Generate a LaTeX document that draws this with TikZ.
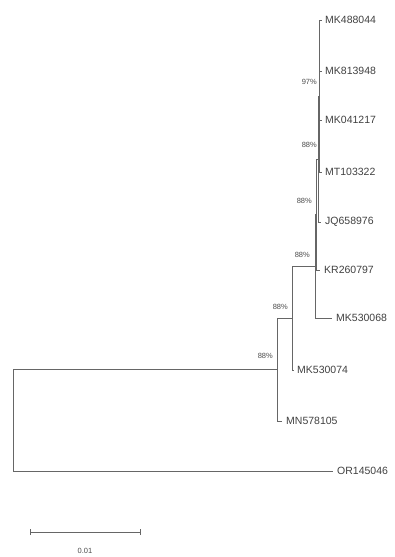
\documentclass[tikz,border=0pt]{standalone}
\usepackage{fontspec}
\setmainfont{Liberation Sans}
\begin{document}
\begin{tikzpicture}[x=1pt,y=-1pt,
  branch/.style={draw=black!60, line width=0.8pt},
  leaflab/.style={anchor=west, font=\fontsize{10.5}{12}\selectfont, text=black!75, inner sep=0pt},
  support/.style={anchor=east, font=\fontsize{7.5}{9}\selectfont, text=black!70, inner sep=0pt}]
\useasboundingbox (0,0) rectangle (394,557);
% internal nodes
\coordinate (root) at (13,420);
\coordinate (n1) at (277,369.5);
\coordinate (n2) at (292,318);
\coordinate (n3) at (315,266.5);
\coordinate (n4) at (316.5,214.5);
\coordinate (n5) at (318,159);
\coordinate (n6) at (319.5,96);
% leaf tips
\coordinate (l1) at (321.5,20);
\coordinate (l2) at (321.5,71);
\coordinate (l3) at (321.5,120);
\coordinate (l4) at (321.5,172);
\coordinate (l5) at (320.5,222);
\coordinate (l6) at (319.5,270);
\coordinate (l7) at (332,318);
\coordinate (l8) at (294,370);
\coordinate (l9) at (282,421);
\coordinate (l10) at (333,471);
% branches
\draw[branch] (root) |- (n1);
\draw[branch] (root) |- (l10);
\draw[branch] (n1) |- (n2);
\draw[branch] (n1) |- (l9);
\draw[branch] (n2) |- (n3);
\draw[branch] (n2) |- (l8);
\draw[branch] (n3) |- (n4);
\draw[branch] (n3) |- (l7);
\draw[branch] (n4) |- (n5);
\draw[branch] (n4) |- (l6);
\draw[branch] (n5) |- (n6);
\draw[branch] (n5) |- (l5);
\draw[branch] (n6) |- (l1);
\draw[branch] (n6) |- (l2);
\draw[branch] (n6) |- (l3);
\draw[branch] (n6) |- (l4);
% leaf labels
\node[leaflab] (t1) at ([xshift=3.5pt]l1) {MK488044};
\node[leaflab] (t2) at ([xshift=3.5pt]l2) {MK813948};
\node[leaflab] (t3) at ([xshift=3.5pt]l3) {MK041217};
\node[leaflab] (t4) at ([xshift=3.5pt]l4) {MT103322};
\node[leaflab] (t5) at ([xshift=4.5pt]l5) {JQ658976};
\node[leaflab] (t6) at ([xshift=4.5pt]l6) {KR260797};
\node[leaflab] (t7) at ([xshift=4pt]l7) {MK530068};
\node[leaflab] (t8) at ([xshift=3pt]l8) {MK530074};
\node[leaflab] (t9) at ([xshift=4pt]l9) {MN578105};
\node[leaflab] (t10) at ([xshift=4pt]l10) {OR145046};
% support values
\node[support] (s6) at ([shift={(-2.5,-14)}]n6) {97\%};
\node[support] (s5) at ([shift={(-1,-14)}]n5) {88\%};
\node[support] (s4) at ([shift={(-4.5,-13.5)}]n4) {88\%};
\node[support] (s3) at ([shift={(-5,-11.5)}]n3) {88\%};
\node[support] (s2) at ([shift={(-4,-11)}]n2) {88\%};
\node[support] (s1) at ([shift={(-4,-13.5)}]n1) {88\%};
% scale bar
\coordinate (sb1) at (30,532);
\coordinate (sb2) at (140,532);
\draw[branch] (sb1) -- (sb2);
\draw[branch] ([yshift=-3pt]sb1) -- ([yshift=3pt]sb1);
\draw[branch] ([yshift=-3pt]sb2) -- ([yshift=3pt]sb2);
\node[support, anchor=center] (sbl) at (85,551) {0.01};
\end{tikzpicture}
\end{document}
